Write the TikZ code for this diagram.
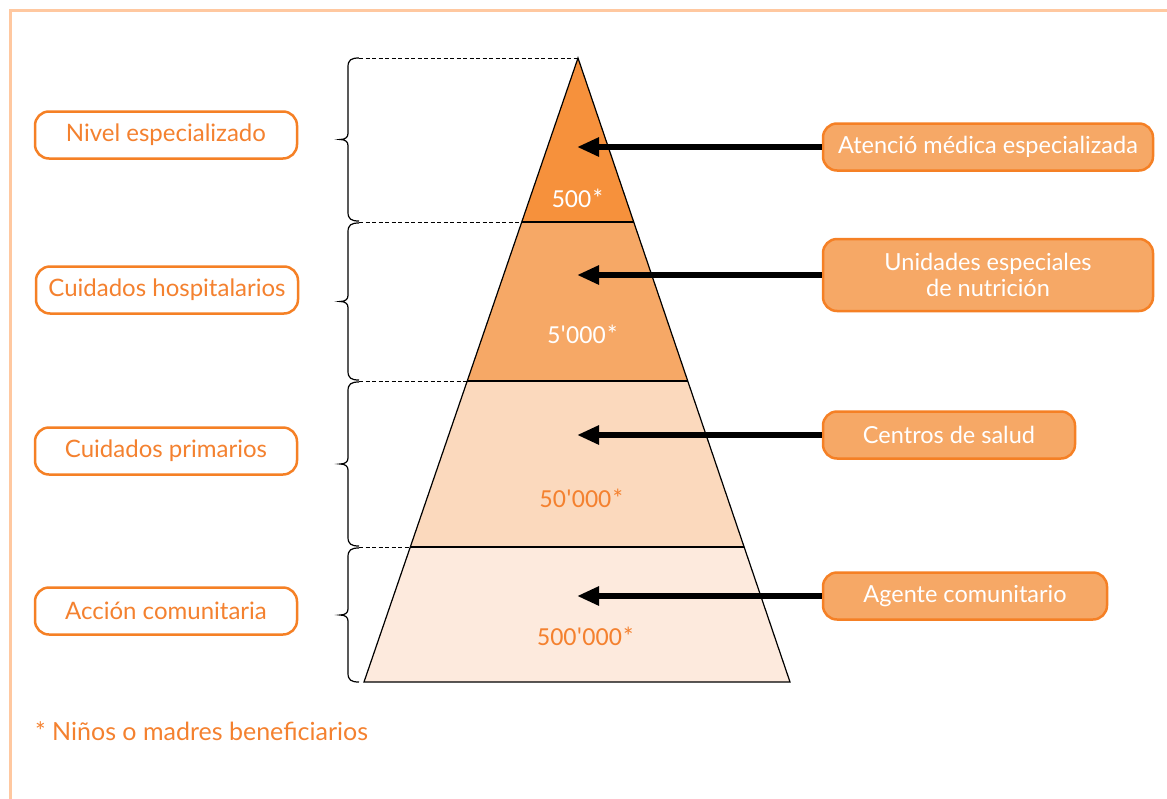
\documentclass[tikz,border=0pt]{standalone}
\usepackage{fontspec}
\newfontfamily\lab{Lato}
\newfontfamily\num{Carlito}
\usetikzlibrary{arrows.meta}
\definecolor{frameC}{HTML}{FFC8A0}
\definecolor{orD}{HTML}{F58025}
\definecolor{orT}{HTML}{F4812F}
\definecolor{L1}{HTML}{F6913C}
\definecolor{L2}{HTML}{F6A866}
\definecolor{L3}{HTML}{FBD9BD}
\definecolor{L4}{HTML}{FDEADD}
\begin{document}
\begin{tikzpicture}[x=1pt,y=-1pt,
  leftbox/.style={draw=orD, line width=2.5pt, rounded corners=14pt, fill=white,
    minimum width=262pt, minimum height=47pt, text=orT, inner sep=0pt,
    font=\lab\fontsize{24}{27}\selectfont},
  rightbox/.style={draw=orD, line width=2.5pt, rounded corners=14pt, fill=L2,
    minimum height=47pt, text=white, inner sep=0pt, align=center,
    font=\lab\fontsize{23.5}{26}\selectfont},
  layer/.style={draw=black, line width=1.2pt, line join=miter},
  brace/.style={draw=black, line width=1.2pt},
  dash line/.style={draw=black, line width=1pt, dash pattern=on 4pt off 2.5pt},
  arr/.style={line width=6pt, -{Triangle[length=22pt,width=18pt]}},
  numlab/.style={font=\num\fontsize{26}{29}\selectfont, inner sep=0pt},
  frame/.style={draw=frameC, line width=3pt}
]
\useasboundingbox (0,0) rectangle (1167,798);
% frame
\draw[frame] (10,800) -- (10,10.5) -- (1170,10.5);

% pyramid corners
\coordinate (apex) at (578,58);
\coordinate (a1l) at (522,222); \coordinate (a1r) at (634,222);
\coordinate (a2l) at (467,381); \coordinate (a2r) at (688,381);
\coordinate (a3l) at (410,547); \coordinate (a3r) at (744,547);
\coordinate (bl) at (364,682);  \coordinate (br) at (790,682);

\fill[L4] (a3l) -- (a3r) -- (br) -- (bl) -- cycle;
\fill[L3] (a2l) -- (a2r) -- (a3r) -- (a3l) -- cycle;
\fill[L2] (a1l) -- (a1r) -- (a2r) -- (a2l) -- cycle;
\fill[L1] (apex) -- (a1r) -- (a1l) -- cycle;
\draw[layer] (apex) -- (br) -- (bl) -- cycle;
\draw[layer] (a1l) -- (a1r);
\draw[layer] (a2l) -- (a2r);
\draw[layer] (a3l) -- (a3r);

% dashed guides
\coordinate (d0) at (359,58);
\coordinate (d1) at (359,222);
\coordinate (d2) at (359,381);
\coordinate (d3) at (359,547);
\draw[dash line] (d0) -- (apex);
\draw[dash line] (d1) -- (a1l);
\draw[dash line] (d2) -- (a2l);
\draw[dash line] (d3) -- (a3l);

% braces
\foreach \ya/\yb in {58/221, 223/380, 382/546, 548/682}{
  \pgfmathsetmacro\ym{(\ya+\yb)/2}
  \draw[brace] (359,\ya) .. controls (351,\ya) and (348,\ya+2) .. (348,\ya+9)
    -- (348,\ym-6) .. controls (348,\ym-2) and (345,\ym) .. (340,\ym)
    .. controls (345,\ym) and (348,\ym+2) .. (348,\ym+6)
    -- (348,\yb-9) .. controls (348,\yb-2) and (351,\yb) .. (359,\yb);
}

% numbers
\node[numlab, text=white] (n1) at (578,198) {500*};
\node[numlab, text=white] (n2) at (583,334) {5'000*};
\node[numlab, text=orT] (n3) at (582,498) {50'000*};
\node[numlab, text=orT] (n4) at (586,636) {500'000*};

% left boxes
\node[leftbox] (l1) at (166,135) {Nivel especializado};
\node[leftbox] (l2) at (167,290) {Cuidados hospitalarios};
\node[leftbox] (l3) at (166,451) {Cuidados primarios};
\node[leftbox] (l4) at (166,611) {Acción comunitaria};

% right boxes
\node[rightbox, minimum width=330pt] (r1) at (988,147) {Atenció médica especializada};
\node[rightbox, minimum width=330pt, minimum height=72pt] (r2) at (988,275) {Unidades especiales\\de nutrición};
\node[rightbox, minimum width=252pt] (r3) at (949,435) {Centros de salud};
\node[rightbox, minimum width=284pt] (r4) at (965,596) {Agente comunitario};

% arrow tips
\coordinate (t1) at (577,147);
\coordinate (t2) at (577,275);
\coordinate (t3) at (577,435);
\coordinate (t4) at (577,596);
\draw[arr] (r1.west) -- (t1);
\draw[arr] (r2.west) -- (t2);
\draw[arr] (r3.west) -- (t3);
\draw[arr] (r4.west) -- (t4);

% footnote
\node[anchor=west, text=orT, inner sep=0pt, font=\lab\fontsize{25}{28}\selectfont] (fn) at (35,731) {* Niños o madres beneficiarios};
\end{tikzpicture}
\end{document}
